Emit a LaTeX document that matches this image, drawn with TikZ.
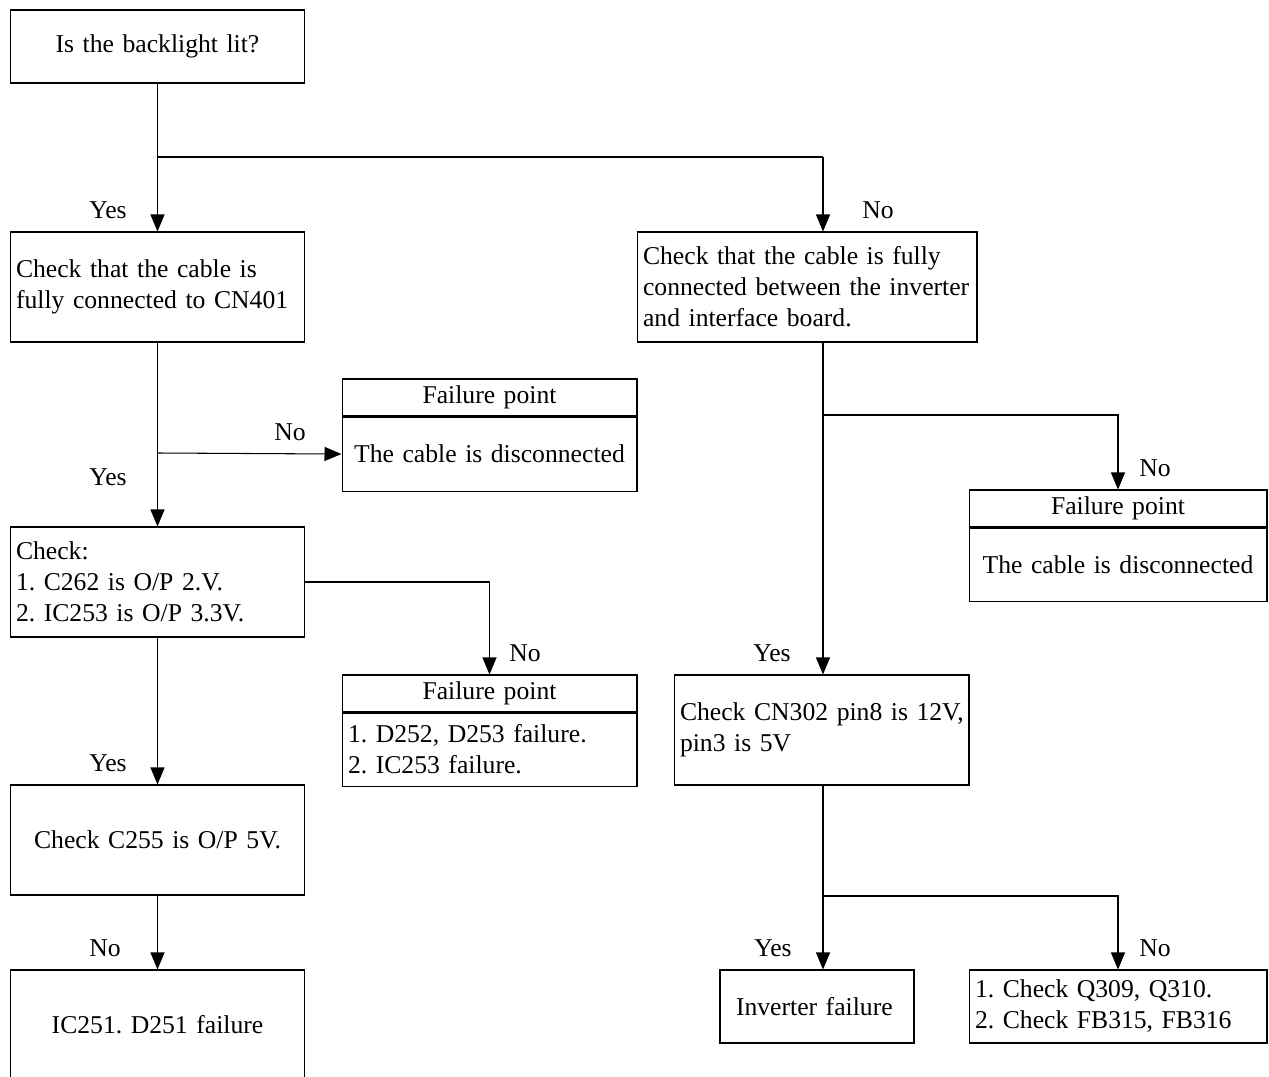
\documentclass[tikz,border=0pt]{standalone}
\usepackage{fontspec}
\setmainfont{Liberation Serif}
\usetikzlibrary{arrows.meta}

\tikzset{
  box/.style={draw, line width=0.6pt, inner xsep=0.12cm, inner ysep=0pt,
    minimum height=2.2cm, text width=5.66cm, align=left},
  cbox/.style={box, align=center},
  hdr/.style={draw, line width=0.6pt, inner sep=0pt, minimum height=0.74cm,
    text width=5.9cm, align=center},
  lbl/.style={inner sep=0pt},
  flow/.style={line width=0.6pt, -{Triangle[width=0.28cm,length=0.34cm]}},
  wire/.style={line width=0.6pt}
}

\begin{document}
\frenchspacing
\begin{tikzpicture}[x=0.02cm, y=-0.02cm, font=\fontsize{14.6}{17.6}\selectfont]
    \useasboundingbox (0,0) rectangle (1269,1077);

    % left column
    \node[cbox, minimum height=1.46cm] (lit) at (157.5,46.5) {Is the backlight lit?};
    \node[box] (cablel) at (157.5,287) {Check that the cable is\\fully connected to CN401};
    \node[box] (volts) at (157.5,582) {Check:\\1. C262 is O/P 2.V.\\2. IC253 is O/P 3.3V.};
    \node[cbox] (cfive) at (157.5,840) {Check C255 is O/P 5V.};
    \node[cbox] (icfail) at (157.5,1025) {IC251. D251 failure};

    % failure points, middle
    \node[hdr] (fpa) at (489.5,397.5) {Failure point};
    \node[cbox, minimum height=1.48cm, anchor=north] (fpabody) at (fpa.south) {The cable is disconnected};
    \node[hdr] (fpb) at (489.5,693.5) {Failure point};
    \node[box, minimum height=1.46cm, anchor=north] (fpbbody) at (fpb.south) {1. D252, D253 failure.\\2. IC253 failure.};

    % right column
    \node[box, text width=6.56cm] (cabler) at (807,287) {Check that the cable is fully\\connected between the inverter\\and interface board.};
    \node[hdr, text width=5.96cm] (fpc) at (1118,508.5) {Failure point};
    \node[cbox, text width=5.72cm, minimum height=1.46cm, anchor=north] (fpcbody) at (fpc.south) {The cable is disconnected};
    \node[box, text width=5.8cm, inner xsep=0.05cm] (pins) at (821.5,730) {\hspace*{0.07cm}Check CN302 pin8 is 12V,\\\hspace*{0.07cm}pin3 is 5V};
    \node[box, text width=3.24cm, inner xsep=0.32cm, minimum height=1.46cm] (invfail) at (817,1006.5) {Inverter failure};
    \node[box, text width=5.72cm, minimum height=1.46cm] (qcheck) at (1118,1006.5) {1. Check Q309, Q310.\\2. Check FB315, FB316};

    % branch points
    \coordinate (s1) at (157,157);
    \coordinate (s2) at (823,157);
    \coordinate (s3) at (157,453);
    \coordinate (s4) at (823,415);
    \coordinate (s5) at (823,896);

    % connectors
    \draw[flow] (lit.south) -- (cablel.north);
    \draw[wire] (s1) -- (s2);
    \draw[flow] (s2) -- (s2 |- cabler.north);
    \draw[flow] (cablel.south) -- (volts.north);
    \draw[flow] (s3) -- (fpabody.west);
    \draw[flow] (volts.east) -| (fpb.north);
    \draw[flow] (volts.south) -- (cfive.north);
    \draw[flow] (cfive.south) -- (icfail.north);
    \draw[flow] (s2 |- cabler.south) -- (s2 |- pins.north);
    \draw[flow] (s4) -| (fpc.north);
    \draw[wire] (s2 |- pins.south) -- (s5);
    \draw[flow] (s5) -- (s5 |- invfail.north);
    \draw[flow] (s5) -| (qcheck.north);

    % labels
    \node[lbl] (yes1) at (108,210) {Yes};
    \node[lbl] (no1) at (878,210) {No};
    \node[lbl] (no2) at (290,432) {No};
    \node[lbl] (yes2) at (108,477) {Yes};
    \node[lbl] (no3) at (525,653) {No};
    \node[lbl] (yes3) at (108,763) {Yes};
    \node[lbl] (no4) at (105,948) {No};
    \node[lbl] (no5) at (1155,468) {No};
    \node[lbl] (yes4) at (772,653) {Yes};
    \node[lbl] (yes5) at (773,948) {Yes};
    \node[lbl] (no6) at (1155,948) {No};
  \end{tikzpicture}
\end{document}
